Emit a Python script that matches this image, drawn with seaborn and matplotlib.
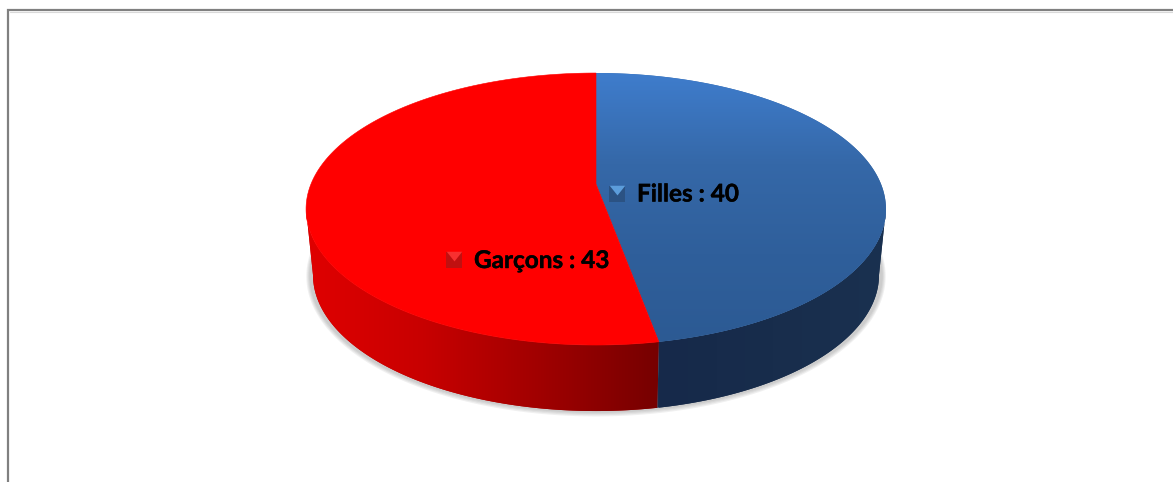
import numpy as np
import matplotlib
matplotlib.use("Agg")
import matplotlib.pyplot as plt
import matplotlib.patheffects as pe
import seaborn as sns
from matplotlib.patches import Polygon

categories = ["Filles", "Garçons"]
values = [40, 43]

sns.set_theme(style="white")
plt.rcParams["font.family"] = ["Lato", "DejaVu Sans"]

W, H = 1173, 482
fig = plt.figure(figsize=(W / 100, H / 100), dpi=100, facecolor="white")
ax = fig.add_axes([0, 0, 1, 1])
ax.axis("off")

CX, APEX_Y, A, B, K, DEPTH = 596.0, 184.0, 285.0, 131.4, 0.184, 66.0
SEAM_SHIFT = 3.9

fractions = np.array(values) / np.sum(values)
seam_true = 360.0 * fractions[0]
seam = seam_true - SEAM_SHIFT
tangent = np.degrees(np.arccos(-K))  # where the outline is widest


def project(phi_deg, scale=1.0, dy=0.0, grow=0.0):
    p = np.radians(phi_deg)
    u, v = np.sin(p), np.cos(p)
    d = 1 + K * v
    x = CX + (A * scale + grow) * u / d
    y = APEX_Y - (B + grow) * v / d + dy
    return x, y


# frame
ax.plot([8, 8, W], [H, 10, 10], color="#808080", lw=1.6, solid_joinstyle="miter", zorder=1)
ax.plot([9.5, W], [11.5, 11.5], color="#d9d9d9", lw=0.8, zorder=1)

# soft shadow under the lower ellipse and beside the wall
circle = np.linspace(0, 360, 361)
for g in range(1, 5):
    sx, sy = project(circle, scale=0.985, dy=DEPTH + 0.5, grow=g)
    ax.fill(sx, sy, color="#606060", alpha=0.09, lw=0, zorder=2)

# rim: gradient across x, clipped to each slice's side wall
red_rim = sns.blend_palette(["#e00000", "#c80000", "#a00000", "#760000"], 256)
blue_rim = sns.blend_palette(["#16294a", "#182d4c", "#1a3150"], 256)
seam_x = project(seam)[0]


def rim(phi0, phi1, palette, x0, x1):
    ph = np.linspace(phi0, phi1, 200)
    xt, yt = project(ph)
    xl, yl = project(ph[::-1], scale=0.976, dy=DEPTH)
    poly = Polygon(np.c_[np.r_[xt, xl], np.r_[yt, yl]], closed=True, fc=palette[128], ec="none", zorder=3)
    ax.add_patch(poly)
    strip = np.array(palette)[None, :, :]
    img = ax.imshow(strip, extent=(x0, x1, 430, 180), aspect="auto", zorder=3, interpolation="bilinear")
    img.set_clip_path(poly)


rim(seam, 360 - tangent, red_rim, 305, seam_x)
rim(tangent, seam, blue_rim, seam_x, 887)

# top face: blue slice with vertical gradient
arc_b = np.linspace(0, seam, 240)
xb, yb = project(arc_b)
blue_poly = Polygon(np.c_[np.r_[CX, xb], np.r_[APEX_Y, yb]], closed=True, fc="#3568a8", ec="none", zorder=4)
ax.add_patch(blue_poly)
grad = sns.blend_palette(["#3f7dcd", "#3568a8", "#2f5f9b", "#2c5a93"], 256)
im = ax.imshow(np.array(grad)[:, None, :], extent=(300, 890, 346, 72), aspect="auto", zorder=5,
               interpolation="bilinear")
im.set_clip_path(blue_poly)

# top face: red slice
arc_r = np.linspace(seam, 360, 260)
xr, yr = project(arc_r)
ax.add_patch(Polygon(np.c_[np.r_[CX, xr], np.r_[APEX_Y, yr]], closed=True, fc="#ff0000", ec="#ff0000", lw=0.4, zorder=6))

# labels with bevelled keys
key_pos = {"Filles": (617, 193.5), "Garçons": (454, 260)}
text_pos = {"Filles": 637, "Garçons": 474}
key_cols = {"Filles": ("#2b5283", "#5c9ddb"), "Garçons": ("#c01010", "#f83030")}
top_tri = [(-1, 1), (1, 1), (0, -0.25)]
for name, val in zip(categories, values):
    kx, ky = key_pos[name]
    dark, light = key_cols[name]
    ax.scatter([kx], [ky], marker="s", s=133, c=dark, linewidths=0, zorder=7)
    ax.scatter([kx], [ky - 1], marker=top_tri, s=125, c=light, linewidths=0, zorder=8)
    ax.text(text_pos[name], ky + 0.5, f"{name} : {val}", fontsize=17.5, fontweight="bold",
            color="black", ha="left", va="center", zorder=9,
            path_effects=[pe.withStroke(linewidth=0.3, foreground="black")])

ax.set_xlim(0, W)
ax.set_ylim(H, 0)
fig.savefig("out.png", dpi=100)
